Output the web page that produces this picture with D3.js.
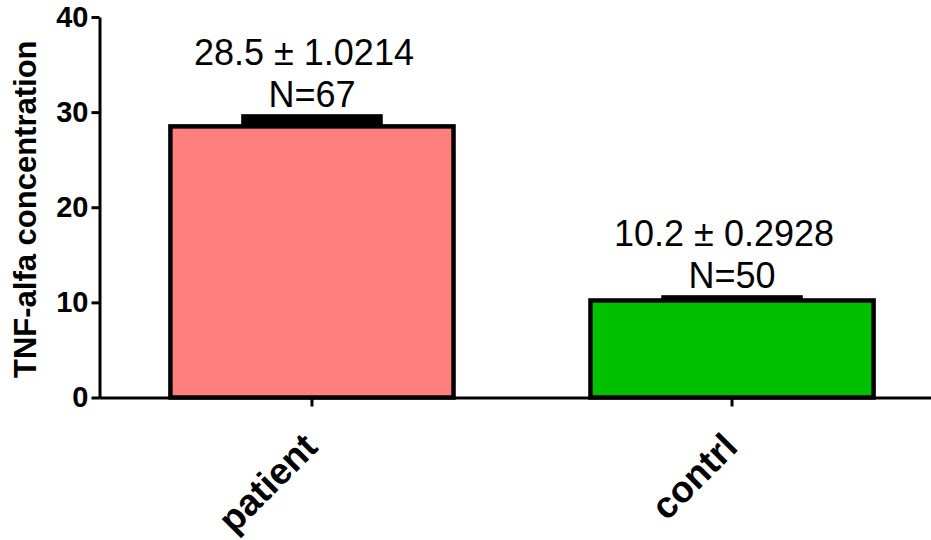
<!DOCTYPE html>
<html>
<head>
<meta charset="utf-8">
<script src="https://cdn.jsdelivr.net/npm/d3@7"></script>
<style>
  body { margin: 0; background: #fff; }
  text { font-family: 'Liberation Sans', Arial, sans-serif; }
</style>
</head>
<body>
<div id="chart"></div>
<script>
// data
let categories = ['patient', 'contrl'];
let means = [28.5, 10.2];
let sems = [1.0214, 0.2928];
let counts = [67, 50];
let meanLabels = ['28.5 \u00b1 1.0214', '10.2 \u00b1 0.2928'];
let barColors = ['#ff7f7f', '#00c000'];
let yTicks = [0, 10, 20, 30, 40];

let svg = d3.select('#chart').append('svg')
  .attr('width', 931)
  .attr('height', 540);

let y = d3.scaleLinear().domain([0, 40]).range([397.5, 17]);
let x = d3.scaleBand().domain(categories).range([99, 945])
  .paddingInner(0.326).paddingOuter(0.17);

// bars
let bars = svg.selectAll('.bar')
  .data(categories).enter()
  .append('g');

// error bars: stem + thick cap, half the bar width
bars.append('rect')
  .attr('x', function(d) { return x(d) + x.bandwidth() / 4; })
  .attr('y', function(d, i) { return y(means[i] + sems[i]) - 2.5; })
  .attr('width', x.bandwidth() / 2)
  .attr('height', function(d, i) { return y(means[i]) - y(means[i] + sems[i]) + 2.5; })
  .attr('fill', '#000');

bars.append('rect')
  .attr('x', function(d) { return x(d); })
  .attr('y', function(d, i) { return y(means[i]); })
  .attr('width', x.bandwidth())
  .attr('height', function(d, i) { return y(0) - y(means[i]); })
  .attr('fill', function(d, i) { return barColors[i]; })
  .attr('stroke', '#000')
  .attr('stroke-width', 4.5);

bars.append('text')
  .attr('x', function(d) { return x(d) + x.bandwidth() / 2 - 8; })
  .attr('y', function(d, i) { return y(means[i] + sems[i]) - 52; })
  .attr('text-anchor', 'middle')
  .attr('font-size', 36)
  .text(function(d, i) { return meanLabels[i]; });

bars.append('text')
  .attr('x', function(d) { return x(d) + x.bandwidth() / 2; })
  .attr('y', function(d, i) { return y(means[i] + sems[i]) - 10; })
  .attr('text-anchor', 'middle')
  .attr('font-size', 36)
  .text(function(d, i) { return 'N=' + counts[i]; });

// y axis
let yAxis = svg.append('g')
  .attr('transform', 'translate(99.5,0)')
  .call(d3.axisLeft(y).tickValues(yTicks).tickSize(8).tickSizeOuter(0).tickPadding(3));
yAxis.select('.domain').attr('stroke-width', 3);
yAxis.selectAll('.tick line').attr('stroke-width', 3);
yAxis.selectAll('.tick text')
  .attr('font-size', 29)
  .attr('font-weight', 'bold')
  .attr('font-family', "'Liberation Sans', Arial, sans-serif")
  .attr('fill', '#000');

// x axis
let xAxis = svg.append('g')
  .attr('transform', 'translate(0,' + y(0) + ')')
  .call(d3.axisBottom(x).tickSize(9).tickSizeOuter(0));
xAxis.select('.domain').attr('stroke-width', 3);
xAxis.selectAll('.tick line').attr('stroke-width', 3);
xAxis.selectAll('.tick text')
  .attr('font-size', 37)
  .attr('font-weight', 'bold')
  .attr('font-family', "'Liberation Sans', Arial, sans-serif")
  .attr('fill', '#000')
  .attr('text-anchor', 'end')
  .attr('dy', 0)
  .attr('transform', 'translate(-1,43) rotate(-45)');

svg.append('text')
  .attr('transform', 'translate(36,' + ((y(0) + y(40)) / 2 + 2) + ') rotate(-90)')
  .attr('text-anchor', 'middle')
  .attr('font-size', 31)
  .attr('font-weight', 'bold')
  .text('TNF-alfa concentration');
</script>
</body>
</html>
